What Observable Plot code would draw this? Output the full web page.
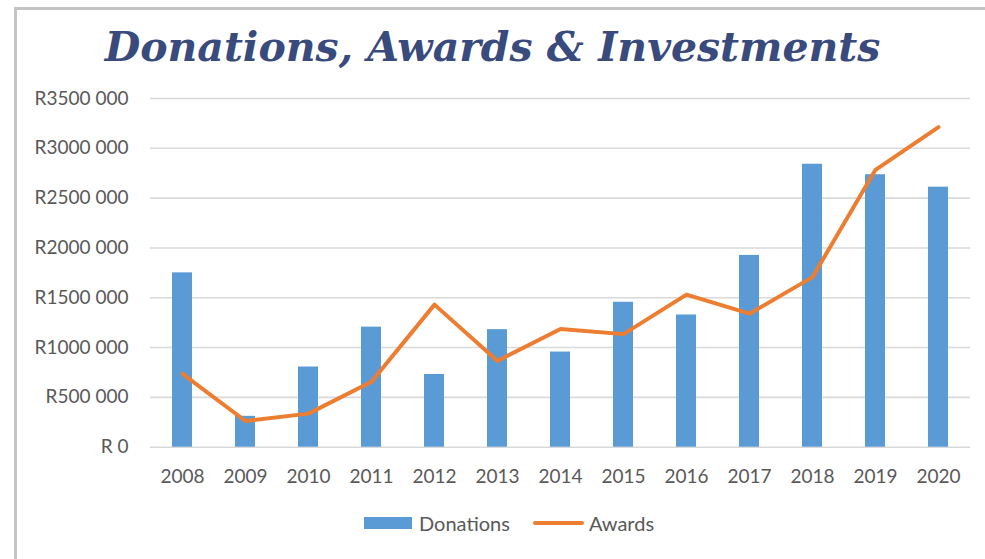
<!DOCTYPE html>
<html>
<head>
<meta charset="utf-8">
<script src="https://cdn.jsdelivr.net/npm/d3@7"></script>
<script src="https://cdn.jsdelivr.net/npm/@observablehq/plot@0.6"></script>
<style>
  html, body { margin: 0; padding: 0; background: #fff; width: 985px; height: 559px; overflow: hidden; position: relative; }
  #frame { position: absolute; left: 14px; top: 7px; width: 1100px; height: 700px; border-left: 3px solid #c4c4c4; border-top: 3px solid #c4c4c4; box-sizing: border-box; }
  #title { position: absolute; left: 0; top: 24px; width: 985px; text-align: center; font-family: "DejaVu Serif", serif; font-weight: bold; font-style: italic; font-size: 41px; line-height: 46px; color: #394a7c; white-space: nowrap; }
  #chart { position: absolute; left: 0; top: 80px; }
  #legend { position: absolute; left: 364px; top: 511px; display: flex; align-items: center; font-family: Lato, sans-serif; font-size: 20px; color: #595959; white-space: nowrap; }
  .sw-bar { width: 48px; height: 12px; background: #5B9BD5; margin-right: 7px; }
  .sw-line { width: 51px; height: 4px; border-radius: 2px; background: #ED7D31; margin-right: 5px; margin-left: 23px; }
</style>
</head>
<body>
<div id="frame"></div>
<div id="title">Donations, Awards &amp; Investments</div>
<div id="chart"></div>
<div id="legend"><div class="sw-bar"></div><span>Donations</span><div class="sw-line"></div><span>Awards</span></div>
<script>
const years = [2008, 2009, 2010, 2011, 2012, 2013, 2014, 2015, 2016, 2017, 2018, 2019, 2020];
const donations = [1750000, 310000, 805000, 1205000, 730000, 1180000, 955000, 1455000, 1327000, 1925000, 2840000, 2735000, 2610000];
const awards = [735000, 263000, 337000, 657000, 1431000, 866000, 1186000, 1135000, 1532000, 1340000, 1707000, 2784000, 3213000];
const yTicks = [0, 500000, 1000000, 1500000, 2000000, 2500000, 3000000, 3500000];
const yTickLabels = ["R 0", "R500 000", "R1000 000", "R1500 000", "R2000 000", "R2500 000", "R3000 000", "R3500 000"];

const data = years.map((y, i) => ({year: y, donations: donations[i], awards: awards[i]}));
const labelOf = new Map(yTicks.map((t, i) => [t, yTickLabels[i]]));

const chart = Plot.plot({
  width: 985,
  height: 420,
  marginTop: 18,
  marginBottom: 53.3,
  marginLeft: 150,
  marginRight: 15,
  style: {fontFamily: "Lato, sans-serif", fontSize: "19px", color: "#595959", background: "transparent"},
  x: {type: "band", domain: years, paddingInner: 0.68, paddingOuter: 0.34},
  y: {domain: [0, 3500000]},
  marks: [
    Plot.gridY(yTicks, {stroke: "#d9d9d9", strokeOpacity: 1, strokeWidth: 1.6}),
    Plot.barY(data, {x: "year", y: "donations", fill: "#5B9BD5"}),
    Plot.line(data, {x: "year", y: "awards", stroke: "#ED7D31", strokeWidth: 4, strokeLinecap: "round", strokeLinejoin: "round"}),
    Plot.axisY(yTicks, {tickSize: 0, tickPadding: 22, tickFormat: d => labelOf.get(d), label: null, fill: "#595959"}),
    Plot.axisX(years, {tickSize: 0, tickPadding: 22, tickFormat: d => String(d), label: null, fill: "#595959", letterSpacing: "1px"})
  ]
});
document.getElementById("chart").appendChild(chart);
</script>
</body>
</html>
